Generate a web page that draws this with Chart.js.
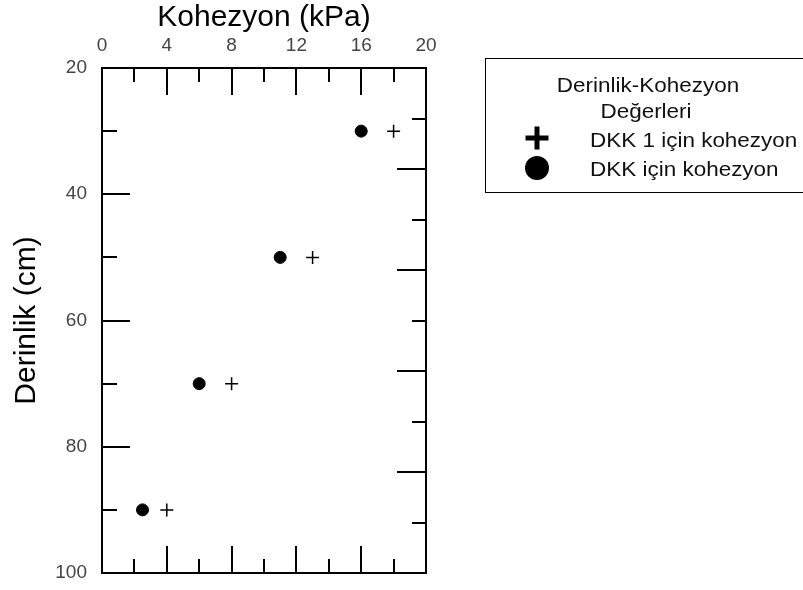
<!DOCTYPE html>
<html>
<head>
<meta charset="utf-8">
<script src="https://cdn.jsdelivr.net/npm/chart.js@4/dist/chart.umd.min.js"></script>
<style>
  body { margin: 0; background: #fff; }
  canvas { display: block; }
</style>
</head>
<body>
<canvas id="grafik" width="803" height="590"></canvas>
<script>
// veriler
const derinlik = [30, 50, 70, 90];
const kohezyonDKK1 = [18, 13, 8, 4];
const kohezyonDKK = [16, 11, 6, 2.5];
const seriAdlari = ['DKK 1 için kohezyon', 'DKK için kohezyon'];
const legendBaslik = ['Derinlik-Kohezyon', 'Değerleri'];

// eksen etiketleri ve iç tikler
const xEtiketleri = [0, 4, 8, 12, 16, 20];
const yEtiketleri = [20, 40, 60, 80, 100];
const xIcTikler = [2, 4, 6, 8, 10, 12, 14, 16, 18];
const yIcTikler = [30, 40, 50, 60, 70, 80, 90];
const sagIcTikler = [1, 2, 3, 4, 5, 6, 7, 8, 9];

const FONT = '"Liberation Sans", Arial, sans-serif';

function noktalar(xler, yler) {
  return xler.map((x, i) => ({ x: x, y: yler[i] }));
}

function cizgi(ctx, x1, y1, x2, y2) {
  ctx.beginPath();
  ctx.moveTo(x1, y1);
  ctx.lineTo(x2, y2);
  ctx.stroke();
}

// eksenlerin içe bakan tikleri
const icTikler = {
  id: 'icTikler',
  beforeDatasetsDraw(chart) {
    const { ctx, chartArea: a, scales } = chart;
    ctx.save();
    ctx.strokeStyle = '#000';
    ctx.lineWidth = 2;
    xIcTikler.forEach(v => {
      const px = Math.round(scales.x.getPixelForValue(v));
      const boy = v % 4 === 0 ? 27 : 14;
      cizgi(ctx, px, a.top, px, a.top + boy);
      cizgi(ctx, px, a.bottom, px, a.bottom - boy);
    });
    yIcTikler.forEach(v => {
      const py = Math.round(scales.y.getPixelForValue(v));
      const boy = v % 20 === 0 ? 28 : 15;
      cizgi(ctx, a.left, py, a.left + boy, py);
    });
    sagIcTikler.forEach(v => {
      const py = Math.round(scales.y2.getPixelForValue(v));
      const boy = v % 2 === 0 ? 29 : 14;
      cizgi(ctx, a.right, py, a.right - boy, py);
    });
    ctx.restore();
  }
};

// sağdaki kutulu açıklama
const aciklama = {
  id: 'aciklama',
  afterDraw(chart) {
    const ctx = chart.ctx;
    const sol = chart.chartArea.right + 59;
    const ust = 58;
    ctx.save();
    ctx.strokeStyle = '#000';
    ctx.lineWidth = 1;
    ctx.strokeRect(sol + 0.5, ust + 0.5, 340, 134);

    ctx.fillStyle = '#111';
    ctx.font = '21px ' + FONT;
    ctx.textBaseline = 'alphabetic';
    function yazi(t, x, y, ortala) {
      ctx.save();
      ctx.translate(x, y);
      ctx.scale(1.07, 1);
      ctx.textAlign = ortala ? 'center' : 'left';
      ctx.fillText(t, 0, 0);
      ctx.restore();
    }
    yazi(legendBaslik[0], sol + 163, ust + 34, true);
    yazi(legendBaslik[1], sol + 161, ust + 60, true);
    yazi(seriAdlari[0], sol + 105, ust + 89, false);
    yazi(seriAdlari[1], sol + 105, ust + 118, false);

    // semboller
    const sx = sol + 52;
    ctx.strokeStyle = '#000';
    ctx.lineWidth = 5;
    cizgi(ctx, sx - 11.5, ust + 80, sx + 11.5, ust + 80);
    cizgi(ctx, sx, ust + 68.5, sx, ust + 91.5);
    ctx.fillStyle = '#000';
    ctx.beginPath();
    ctx.arc(sx, ust + 110, 12, 0, Math.PI * 2);
    ctx.fill();
    ctx.restore();
  }
};

function crearGrafica() {
  const ctx = document.getElementById('grafik').getContext('2d');
  new Chart(ctx, {
    type: 'scatter',
    data: {
      datasets: [{
        label: seriAdlari[0],
        data: noktalar(kohezyonDKK1, derinlik),
        pointStyle: 'cross',
        pointRadius: 6.5,
        borderWidth: 1.5,
        borderColor: '#000',
        backgroundColor: '#000',
        xAxisID: 'x',
        yAxisID: 'y'
      }, {
        label: seriAdlari[1],
        data: noktalar(kohezyonDKK, derinlik),
        pointStyle: 'circle',
        pointRadius: 6,
        borderWidth: 1,
        borderColor: '#000',
        backgroundColor: '#000',
        xAxisID: 'x',
        yAxisID: 'y'
      }]
    },
    options: {
      responsive: false,
      animation: false,
      layout: { padding: 0 },
      plugins: { legend: { display: false }, tooltip: { enabled: false } },
      scales: {
        x: {
          type: 'linear',
          position: 'top',
          min: 0,
          max: 20,
          afterBuildTicks: s => { s.ticks = xEtiketleri.map(v => ({ value: v })); },
          afterFit: s => { s.height = 68; s.paddingLeft = 0; s.paddingRight = 0; },
          grid: { display: false, drawTicks: false },
          border: { display: true, color: '#000', width: 2 },
          ticks: { color: '#444', padding: 11, maxRotation: 0, font: { family: FONT, size: 19 } },
          title: {
            display: true,
            text: 'Kohezyon (kPa)',
            color: '#000',
            padding: 0,
            font: { family: FONT, size: 30 }
          }
        },
        x2: {
          type: 'linear',
          position: 'bottom',
          min: 0,
          max: 20,
          afterFit: s => { s.height = 17; s.paddingLeft = 0; s.paddingRight = 0; },
          grid: { display: false, drawTicks: false },
          border: { display: true, color: '#000', width: 2 },
          ticks: { display: false }
        },
        y: {
          type: 'linear',
          position: 'left',
          reverse: true,
          min: 20,
          max: 100,
          afterBuildTicks: s => { s.ticks = yEtiketleri.map(v => ({ value: v })); },
          afterFit: s => { s.width = 102; s.paddingTop = 0; s.paddingBottom = 0; },
          grid: { display: false, drawTicks: false },
          border: { display: true, color: '#000', width: 2 },
          ticks: { color: '#444', padding: 15, font: { family: FONT, size: 19 } },
          title: {
            display: true,
            text: 'Derinlik (cm)',
            color: '#000',
            padding: { top: 9, bottom: 0 },
            font: { family: FONT, size: 30 }
          }
        },
        y2: {
          type: 'linear',
          position: 'right',
          reverse: true,
          min: 0,
          max: 10,
          afterFit: s => { s.width = 377; s.paddingTop = 0; s.paddingBottom = 0; },
          grid: { display: false, drawTicks: false },
          border: { display: true, color: '#000', width: 2 },
          ticks: { display: false }
        }
      }
    },
    plugins: [icTikler, aciklama]
  });
}

document.addEventListener('DOMContentLoaded', crearGrafica);
</script>
</body>
</html>
